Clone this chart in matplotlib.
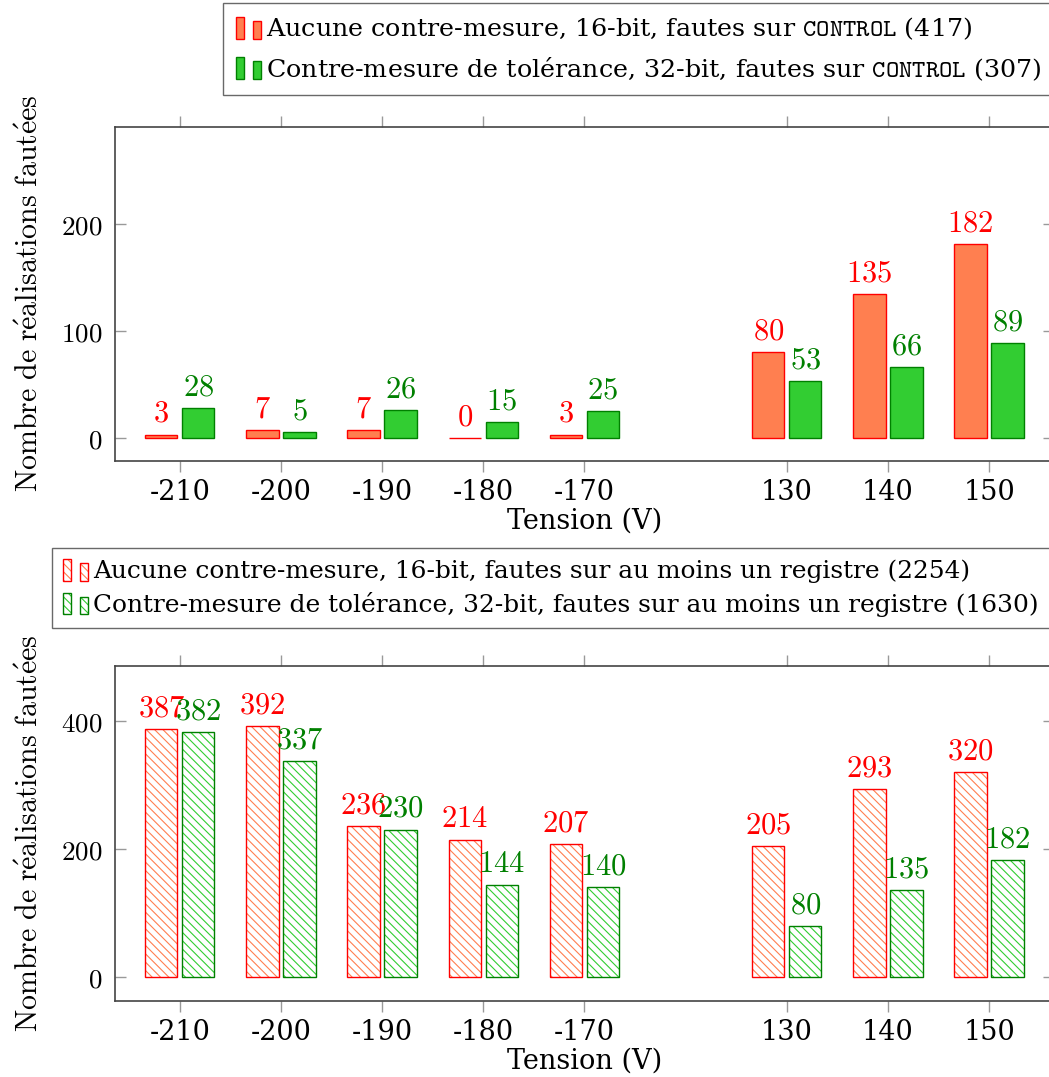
import matplotlib
matplotlib.use("Agg")
import matplotlib.pyplot as plt
from matplotlib.patches import Rectangle, Patch
from matplotlib.ticker import FuncFormatter

plt.rcParams["font.family"] = "DejaVu Serif"
plt.rcParams["mathtext.fontset"] = "cm"
plt.rcParams["hatch.linewidth"] = 0.8

# categories (voltage) and their slot on the x axis (gap between -170 and 130)
tensions = ["-210", "-200", "-190", "-180", "-170", "130", "140", "150"]
slots = [0, 1, 2, 3, 4, 6, 7, 8]

# top: faults on CONTROL
control_16 = [3, 7, 7, 0, 3, 80, 135, 182]
control_32 = [28, 5, 26, 15, 25, 53, 66, 89]
# bottom: faults on at least one register
reg_16 = [387, 392, 236, 214, 207, 205, 293, 320]
reg_32 = [382, 337, 230, 144, 140, 80, 135, 182]

RED, CORAL = "#ff0000", "#ff7f50"
GREEN, LIME = "#008000", "#32cd32"
TXT_RED, TXT_GREEN = "#ff0000", "#008000"
TICK_FS = 19.5


class TwoBars:
    """pgfplots-style ybar legend image: two little bars."""

    def __init__(self, face, edge, hatch=None):
        self.face, self.edge, self.hatch = face, edge, hatch

    def legend_artist(self, legend, orig_handle, fontsize, handlebox):
        x0, y0 = -handlebox.xdescent, -handlebox.ydescent
        w, h = handlebox.width, handlebox.height
        bw = w * 0.32
        first = None
        for xx, hh in [(x0, h), (x0 + w - bw, h * 0.8)]:
            if self.hatch:
                p = Rectangle((xx, y0), bw, hh, facecolor="white",
                              edgecolor=self.face, hatch=self.hatch, lw=0,
                              transform=handlebox.get_transform())
                handlebox.add_artist(p)
                o = Rectangle((xx, y0), bw, hh, fill=False, edgecolor=self.edge,
                              lw=1, transform=handlebox.get_transform())
                handlebox.add_artist(o)
            else:
                p = Rectangle((xx, y0), bw, hh, facecolor=self.face,
                              edgecolor=self.edge, lw=1,
                              transform=handlebox.get_transform())
                handlebox.add_artist(p)
            first = first or p
        return first


def style_axes(ax, ylim, yticks):
    ax.set_xlim(-0.64, 8.64)
    ax.set_ylim(*ylim)
    ax.set_xticks(slots)
    ax.set_xticklabels(tensions, fontsize=TICK_FS)
    ax.set_yticks(yticks)
    ax.yaxis.set_major_formatter(FuncFormatter(lambda v, p: f"${v:.0f}$"))
    ax.tick_params(axis="x", direction="out", length=8, width=1, color="#999999",
                   top=True, bottom=True, pad=5)
    ax.tick_params(axis="y", direction="in", length=8, width=1, color="#999999",
                   left=True, right=True, labelsize=19.5, pad=9)
    for s in ax.spines.values():
        s.set_color("#444444")
        s.set_linewidth(1.2)
    ax.set_xlabel("Tension (V)", fontsize=TICK_FS, labelpad=1)
    ax.set_ylabel(r"$\mathrm{Nombre\ de\ r\acute{e}alisations\ faut\acute{e}es}$",
                  fontsize=21.5, labelpad=12)


def label_bars(ax, xs, vals, color):
    for x, v in zip(xs, vals):
        ax.annotate(f"${v}$", xy=(x, v), xytext=(0, 4), textcoords="offset points",
                    ha="center", va="bottom", color=color, fontsize=22)


W, OFF = 0.32, 0.183
x_red = [s - OFF for s in slots]
x_green = [s + OFF for s in slots]

fig = plt.figure(figsize=(10.49, 10.77), dpi=100)
ax1 = fig.add_axes([0.1096, 0.5722, 0.895, 0.3101])
ax2 = fig.add_axes([0.1096, 0.0708, 0.895, 0.3108])

# top chart
ax1.bar(x_red, control_16, W, color=CORAL, edgecolor=RED, lw=1)
ax1.bar(x_green, control_32, W, color=LIME, edgecolor=GREEN, lw=1)
label_bars(ax1, x_red, control_16, TXT_RED)
label_bars(ax1, x_green, control_32, TXT_GREEN)
style_axes(ax1, (-21.6, 291.5), [0, 100, 200])

h1, h2 = Patch(), Patch()
fig.legend([h1, h2],
           [r"Aucune contre-mesure, 16-bit, fautes sur $\mathtt{CONTROL}$ (417)",
            r"Contre-mesure de tolérance, 32-bit, fautes sur $\mathtt{CONTROL}$ (307)"],
           handler_map={h1: TwoBars(CORAL, RED), h2: TwoBars(LIME, GREEN)},
           loc="upper left", bbox_to_anchor=(223 / 1049, 1 - 3 / 1077),
           fontsize=18.3, frameon=True, fancybox=False, edgecolor="#444444",
           handlelength=1.0, handleheight=0.95, handletextpad=0.2,
           labelspacing=0.5, borderpad=0.5, borderaxespad=0)

# bottom chart
ax2.bar(x_red, reg_16, W, color="white", edgecolor=CORAL, hatch="\\\\\\\\", lw=0)
ax2.bar(x_red, reg_16, W, fill=False, edgecolor=RED, lw=1)
ax2.bar(x_green, reg_32, W, color="white", edgecolor=LIME, hatch="\\\\\\\\", lw=0)
ax2.bar(x_green, reg_32, W, fill=False, edgecolor=GREEN, lw=1)
label_bars(ax2, x_red, reg_16, TXT_RED)
label_bars(ax2, x_green, reg_32, TXT_GREEN)
style_axes(ax2, (-37, 485), [0, 200, 400])

h3, h4 = Patch(), Patch()
fig.legend([h3, h4],
           ["Aucune contre-mesure, 16-bit, fautes sur au moins un registre (2254)",
            "Contre-mesure de tolérance, 32-bit, fautes sur au moins un registre (1630)"],
           handler_map={h3: TwoBars(CORAL, RED, "\\\\\\\\"),
                        h4: TwoBars(LIME, GREEN, "\\\\\\\\")},
           loc="upper left", bbox_to_anchor=(52 / 1049, 1 - 548 / 1077),
           fontsize=17.9, frameon=True, fancybox=False, edgecolor="#444444",
           handlelength=1.0, handleheight=0.95, handletextpad=0.2,
           labelspacing=0.35, borderpad=0.45, borderaxespad=0)

fig.savefig("out.png", dpi=100)
plt.close(fig)
